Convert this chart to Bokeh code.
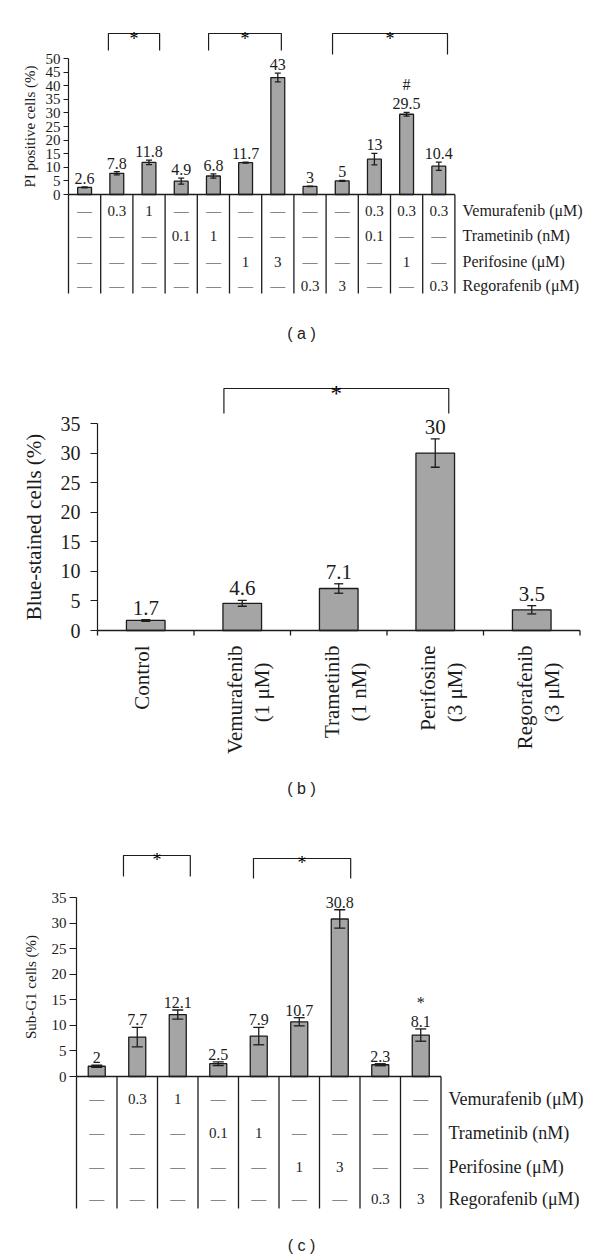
import math
from bokeh.plotting import figure
from bokeh.models import Range1d, FixedTicker
from bokeh.core.properties import value
from bokeh.embed import file_html
from bokeh.resources import INLINE

DASH = "—"

# ---------------- Panel (a) data ----------------
A_VALUES = [2.6, 7.8, 11.8, 4.9, 6.8, 11.7, 43, 3, 5, 13, 29.5, 10.4]
A_ERRORS = [0.15, 0.6, 0.85, 1.1, 0.8, 0.2, 1.6, 0.1, 0.15, 2.1, 0.7, 1.5]
A_MARKS = ["", "", "", "", "", "", "", "", "", "", "#", ""]
A_VEMURAFENIB = [DASH, "0.3", "1", DASH, DASH, DASH, DASH, DASH, DASH, "0.3", "0.3", "0.3"]
A_TRAMETINIB = [DASH, DASH, DASH, "0.1", "1", DASH, DASH, DASH, DASH, "0.1", DASH, DASH]
A_PERIFOSINE = [DASH, DASH, DASH, DASH, DASH, "1", "3", DASH, DASH, DASH, "1", DASH]
A_REGORAFENIB = [DASH, DASH, DASH, DASH, DASH, DASH, DASH, "0.3", "3", DASH, DASH, "0.3"]
ROW_LABELS = ["Vemurafenib (μM)", "Trametinib (nM)", "Perifosine (μM)", "Regorafenib (μM)"]
A_Y_TICKS = [0, 5, 10, 15, 20, 25, 30, 35, 40, 45, 50]
A_YLABEL = "PI positive cells (%)"
A_BRACKET_TEXT = ["*", "*", "*"]

# ---------------- Panel (b) data ----------------
B_CAT_LINE1 = ["Control", "Vemurafenib", "Trametinib", "Perifosine", "Regorafenib"]
B_CAT_LINE2 = ["", "(1 μM)", "(1 nM)", "(3 μM)", "(3 μM)"]
B_VALUES = [1.7, 4.6, 7.1, 30, 3.5]
B_ERRORS = [0.15, 0.5, 0.8, 2.4, 0.7]
B_MARKS = ["", "", "", "", ""]
B_Y_TICKS = [0, 5, 10, 15, 20, 25, 30, 35]
B_YLABEL = "Blue-stained cells (%)"
B_BRACKET_TEXT = ["*"]

# ---------------- Panel (c) data ----------------
C_VALUES = [2, 7.7, 12.1, 2.5, 7.9, 10.7, 30.8, 2.3, 8.1]
C_ERRORS = [0.2, 1.9, 0.9, 0.35, 1.7, 0.8, 1.8, 0.2, 1.2]
C_MARKS = ["", "", "", "", "", "", "", "", "*"]
C_VEMURAFENIB = [DASH, "0.3", "1", DASH, DASH, DASH, DASH, DASH, DASH]
C_TRAMETINIB = [DASH, DASH, DASH, "0.1", "1", DASH, DASH, DASH, DASH]
C_PERIFOSINE = [DASH, DASH, DASH, DASH, DASH, "1", "3", DASH, DASH]
C_REGORAFENIB = [DASH, DASH, DASH, DASH, DASH, DASH, DASH, "0.3", "3"]
C_Y_TICKS = [0, 5, 10, 15, 20, 25, 30, 35]
C_YLABEL = "Sub-G1 cells (%)"
C_BRACKET_TEXT = ["*", "*"]

# ---------------- layout / style (page pixel coordinates) ----------------
SERIF = "Liberation Serif"
SANS = "Liberation Sans"
INK = "#1c1c1c"
BAR_FILL = "#a5a5a5"
W = 596

CFG_A = dict(fig_top=0, fig_h=345, axis_x=68, cat_w=32.2, zero_y=194, top_y=58,
             bar_w=0.43, cap_px=6, val_font=16, val_off=3, mark_lift=16,
             tick_font=15, tick_out=5, standoff=3, ylabel_font=15, ylabel_x=29,
             br_spans=[(1.24, 2.83), (4.35, 6.61), (8.2, 11.77)], br_top=[33, 33, 33],
             br_end=[50, 50, 54], br_font=18, br_off=5,
             rows_y=[210, 235, 261, 285], table_bottom=293, cell_font=15,
             row_label_x=462, row_label_font=16, caption="( a )", cap_y=333)

CFG_B = dict(fig_top=345, fig_h=470, axis_x=97, cat_w=96.5, zero_y=630, top_y=423,
             bar_w=0.40, cap_px=9, val_font=21, val_off=5, mark_lift=20,
             tick_font=20, tick_out=7, standoff=10, ylabel_font=21, ylabel_x=33,
             br_spans=[(1.31, 3.64)], br_top=[388], br_end=[413], br_font=23, br_off=5,
             cat_font=21, cat_top=645, cat2_top=662, cat_dx1=-7, cat_dx2=20, cat_dx_single=-4,
             tick_down=5, caption="( b )", cap_y=788)

CFG_C = dict(fig_top=815, fig_h=443, axis_x=76, cat_w=40.5, zero_y=1076, top_y=897,
             bar_w=0.42, cap_px=11, val_font=16, val_off=2, mark_lift=16,
             tick_font=15, tick_out=7, standoff=3, ylabel_font=15, ylabel_x=30,
             br_spans=[(1.16, 2.81), (4.37, 6.77)], br_top=[855, 858], br_end=[876, 878],
             br_font=18, br_off=4,
             rows_y=[1098, 1132, 1166, 1198], table_bottom=1208, cell_font=15,
             row_label_x=448, row_label_font=18, caption="( c )", cap_y=1245)


def make_panel(cfg, values, errors, marks, ticks, ylabel, bracket_text,
               table_rows=None, cat_line1=None, cat_line2=None):
    n = len(values)
    cw = cfg["cat_w"]
    ppu = (cfg["zero_y"] - cfg["top_y"]) / ticks[-1]

    def yv(py):
        return (cfg["zero_y"] - py) / ppu

    def xv(px):
        return (px - cfg["axis_x"]) / cw

    def dy(px):
        return px / ppu

    def txt(x, y, t, size, font=SERIF, **kw):
        p.text(x=x, y=y, text=t, text_font=value(font), text_font_size=value(f"{size}px"),
               text_color=kw.pop("color", INK), **kw)

    top, h = cfg["fig_top"], cfg["fig_h"]
    p = figure(width=W, height=h,
               x_range=Range1d(xv(0), xv(W)),
               y_range=Range1d(yv(top + h), yv(top)),
               x_axis_location=None, toolbar_location=None, output_backend="svg",
               min_border_left=0, min_border_right=0, min_border_top=0, min_border_bottom=0)
    p.outline_line_color = None
    p.background_fill_color = "white"
    p.border_fill_color = "white"
    p.xgrid.grid_line_color = None
    p.ygrid.grid_line_color = None

    ax = p.yaxis[0]
    ax.fixed_location = 0
    ax.ticker = FixedTicker(ticks=ticks)
    ax.bounds = (0, ticks[-1])
    ax.axis_line_color = INK
    ax.axis_line_width = 1.2
    ax.major_tick_line_color = INK
    ax.major_tick_line_width = 1.2
    ax.major_tick_in = 0
    ax.major_tick_out = cfg["tick_out"]
    ax.minor_tick_line_color = None
    ax.major_label_standoff = cfg["standoff"]
    ax.major_label_text_font = SERIF
    ax.major_label_text_font_size = f'{cfg["tick_font"]}px'
    ax.major_label_text_color = INK

    # y-axis title, centred on the axis extent
    txt([xv(cfg["ylabel_x"])], [ticks[-1] / 2], [ylabel], cfg["ylabel_font"],
        angle=math.pi / 2, text_align="center", text_baseline="middle")

    xs = [i + 0.5 for i in range(n)]
    hi = [v + e for v, e in zip(values, errors)]
    lo = [v - e for v, e in zip(values, errors)]
    cap = cfg["cap_px"] / cw / 2

    p.vbar(x=xs, top=values, bottom=0, width=cfg["bar_w"], fill_color=BAR_FILL,
           line_color=INK, line_width=1.3)
    p.segment(x0=xs, y0=lo, x1=xs, y1=hi, line_color=INK, line_width=1.3)
    p.segment(x0=[x - cap for x in xs], y0=hi, x1=[x + cap for x in xs], y1=hi,
              line_color=INK, line_width=1.3)
    p.segment(x0=[x - cap for x in xs], y0=lo, x1=[x + cap for x in xs], y1=lo,
              line_color=INK, line_width=1.3)

    txt(xs, hi, [f"{v:g}" for v in values], cfg["val_font"], text_align="center",
        text_baseline="bottom", y_offset=-cfg["val_off"])
    mk = [(x, y, m) for x, y, m in zip(xs, hi, marks) if m]
    if mk:
        txt([m[0] for m in mk], [m[1] for m in mk], [m[2] for m in mk], cfg["val_font"],
            text_align="center", text_baseline="bottom",
            y_offset=-(cfg["val_off"] + cfg["mark_lift"]))

    # significance brackets
    for (x0, x1), t_y, e_y, t in zip(cfg["br_spans"], cfg["br_top"], cfg["br_end"], bracket_text):
        p.multi_line(xs=[[x0, x0, x1, x1]], ys=[[yv(e_y), yv(t_y), yv(t_y), yv(e_y)]],
                     line_color=INK, line_width=1.2)
        txt([(x0 + x1) / 2], [yv(t_y)], [t], cfg["br_font"], text_align="center",
            text_baseline="alphabetic", y_offset=cfg["br_off"], color="#000000")

    # x baseline
    p.segment(x0=[0], y0=[0], x1=[n], y1=[0], line_color=INK, line_width=1.3)

    if table_rows is not None:
        bnd = list(range(n + 1))
        p.segment(x0=bnd, y0=[0] * len(bnd), x1=bnd, y1=[yv(cfg["table_bottom"])] * len(bnd),
                  line_color=INK, line_width=1.3)
        for row, ry, lab in zip(table_rows, cfg["rows_y"], ROW_LABELS):
            txt(xs, [yv(ry)] * n, row, cfg["cell_font"], text_align="center",
                text_baseline="middle")
            txt([xv(cfg["row_label_x"])], [yv(ry)], [lab], cfg["row_label_font"],
                text_align="left", text_baseline="middle")

    if cat_line1 is not None:
        bnd = list(range(n + 1))
        p.segment(x0=bnd, y0=[0] * len(bnd), x1=bnd, y1=[-dy(cfg["tick_down"])] * len(bnd),
                  line_color=INK, line_width=1.3)
        for i, (l1, l2) in enumerate(zip(cat_line1, cat_line2)):
            dx1 = cfg["cat_dx1"] if l2 else cfg["cat_dx_single"]
            txt([xs[i] + dx1 / cw], [yv(cfg["cat_top"])], [l1], cfg["cat_font"],
                angle=math.pi / 2, text_align="right", text_baseline="middle")
            if l2:
                txt([xs[i] + cfg["cat_dx2"] / cw], [yv(cfg["cat2_top"])], [l2], cfg["cat_font"],
                    angle=math.pi / 2, text_align="right", text_baseline="middle")

    txt([xv(301)], [yv(cfg["cap_y"])], [cfg["caption"]], 16, font=SANS,
        text_align="center", text_baseline="middle")
    return p


pa = make_panel(CFG_A, A_VALUES, A_ERRORS, A_MARKS, A_Y_TICKS, A_YLABEL, A_BRACKET_TEXT,
                table_rows=[A_VEMURAFENIB, A_TRAMETINIB, A_PERIFOSINE, A_REGORAFENIB])
pb = make_panel(CFG_B, B_VALUES, B_ERRORS, B_MARKS, B_Y_TICKS, B_YLABEL, B_BRACKET_TEXT,
                cat_line1=B_CAT_LINE1, cat_line2=B_CAT_LINE2)
pc = make_panel(CFG_C, C_VALUES, C_ERRORS, C_MARKS, C_Y_TICKS, C_YLABEL, C_BRACKET_TEXT,
                table_rows=[C_VEMURAFENIB, C_TRAMETINIB, C_PERIFOSINE, C_REGORAFENIB])

open("out.html", "w").write(file_html([pa, pb, pc], INLINE))
